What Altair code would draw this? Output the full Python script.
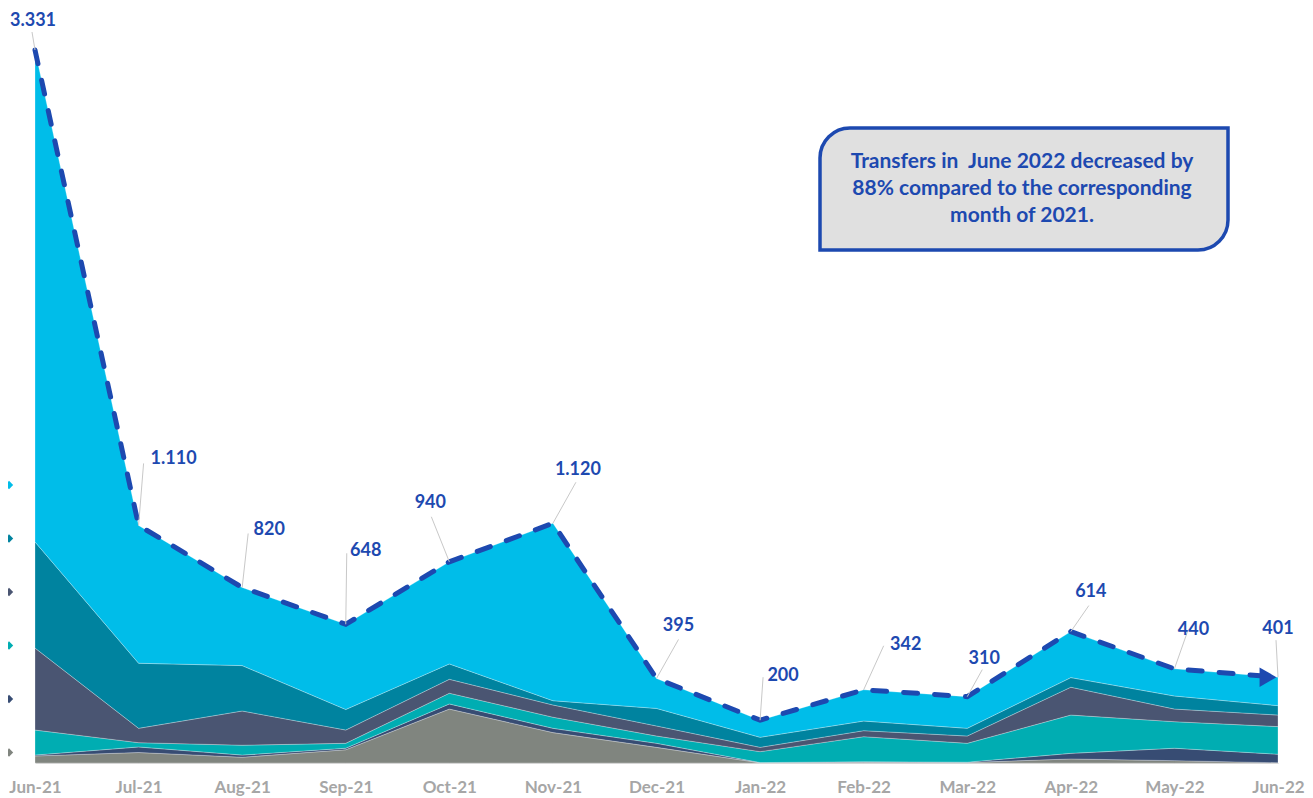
import json
import altair as alt
import pandas as pd

# ---------------- data ----------------
months = ["Jun-21", "Jul-21", "Aug-21", "Sep-21", "Oct-21", "Nov-21", "Dec-21",
          "Jan-22", "Feb-22", "Mar-22", "Apr-22", "May-22", "Jun-22"]

series_names = ["Series 1", "Series 2", "Series 3", "Series 4", "Series 5", "Series 6"]  # bottom -> top
s1 = [33, 49, 27, 62, 252, 142, 73, 1, 3, 2, 19, 11, 1]          # gray
s2 = [4, 26, 10, 7, 24, 20, 19, 1, 3, 2, 26, 58, 40]             # navy
s3 = [117, 20, 46, 23, 50, 52, 34, 51, 117, 88, 179, 124, 129]   # teal
s4 = [383, 67, 160, 62, 65, 57, 47, 20, 28, 34, 130, 59, 54]     # slate
s5 = [496, 304, 212, 96, 72, 20, 82, 47, 45, 36, 45, 61, 44]     # dark teal
s6 = [2298, 644, 365, 398, 477, 829, 140, 80, 146, 148, 215, 127, 133]  # light blue
totals = [3331, 1110, 820, 648, 940, 1120, 395, 200, 342, 310, 614, 440, 401]

note_text = "Transfers in\u00a0 June 2022 decreased by\n88% compared to the corresponding\nmonth of 2021."

# ---------------- styling ----------------
colors = ["#80857f", "#374c73", "#00adb2", "#4a5572", "#00839f", "#00bde9"]
BLUE = "#1d49b0"
W, H = 1243, 713
YMAX = 3331
px_x = W / 12.0
u_y = YMAX / H

# label placement offsets in px (relative to each total point)
lab_dx = [-2, 35, 27, 20, -19, 25, 22, 23, 42, 17, 20, 19, 0]
lab_dy = [-29, -66, -57, -73, -59, -53, -52, -44, -45, -38, -40, -39, -48]
lead_dx = [-3, 5, 6, 1, -18, 23, 22, 3, 20, 15, 18, 13, -2]
lead_dy = [-18, -62, -54, -71, -45, -41, -39, -43, -44, -27, -26, -37, -37]

# ---------------- tables ----------------
rows = []
for k, (name, vals) in enumerate(zip(series_names, [s1, s2, s3, s4, s5, s6])):
    for i, v in enumerate(vals):
        rows.append({"idx": i, "series": name, "value": v, "ord": k})
df = pd.DataFrame(rows)

tot = pd.DataFrame({
    "idx": list(range(len(months))),
    "total": totals,
    "label": [f"{t:,}".replace(",", ".") for t in totals],
})
tot["lx"] = tot["idx"] + pd.Series(lab_dx) / px_x
tot["ly"] = tot["total"] - pd.Series(lab_dy) * u_y
tot["ex"] = tot["idx"] + pd.Series(lead_dx) / px_x
tot["ey"] = tot["total"] - pd.Series(lead_dy) * u_y

xscale = alt.Scale(domain=[0, 12], nice=False, zero=False)
yscale = alt.Scale(domain=[0, YMAX], nice=False)

label_expr = json.dumps(months) + "[datum.value]"

area = alt.Chart(df).mark_area(stroke="#ffffff", strokeWidth=0.6, strokeOpacity=0.45).encode(
    x=alt.X("idx:Q", scale=xscale,
            axis=alt.Axis(values=list(range(13)), labelExpr=label_expr, title=None,
                          ticks=False, grid=False, domain=True, domainColor="#d0d0d0",
                          labelFont="Lato", labelFontWeight="bold", labelFontSize=17,
                          labelColor="#a6a6a6", labelPadding=16,
                          labelFlush=False, labelOverlap=False, labelBound=False)),
    y=alt.Y("value:Q", stack="zero", scale=yscale, axis=None),
    color=alt.Color("series:N",
                    scale=alt.Scale(domain=series_names[::-1], range=colors[::-1]),
                    legend=alt.Legend(orient="none", legendX=-31, legendY=430,
                                      symbolType="diamond", labelExpr="''", title=None,
                                      symbolSize=70, rowPadding=43.5, padding=0,
                                      symbolStrokeWidth=0)),
    order=alt.Order("ord:Q", sort="ascending"),
)

line = alt.Chart(tot).mark_line(color=BLUE, strokeWidth=5, strokeDash=[14, 17],
                                strokeCap="round").encode(
    x=alt.X("idx:Q", scale=xscale), y=alt.Y("total:Q", scale=yscale))

arrow = alt.Chart(tot[tot["idx"] == 12]).mark_point(
    shape="triangle-right", filled=True, color=BLUE, size=380, opacity=1, xOffset=-10
).encode(x=alt.X("idx:Q", scale=xscale), y=alt.Y("total:Q", scale=yscale))

leaders = alt.Chart(tot).mark_rule(color="#c8c8c8", strokeWidth=1).encode(
    x=alt.X("idx:Q", scale=xscale), y=alt.Y("total:Q", scale=yscale),
    x2="ex:Q", y2="ey:Q")

labels = alt.Chart(tot).mark_text(font="Lato", fontWeight="bold", fontSize=18,
                                  color=BLUE, align="center", baseline="middle").encode(
    x=alt.X("lx:Q", scale=xscale), y=alt.Y("ly:Q", scale=yscale), text="label:N")

box = alt.Chart(tot[tot["idx"] == 0]).mark_rect(
    fill="#e0e0e0", stroke=BLUE, strokeWidth=3.5,
    cornerRadiusTopLeft=30, cornerRadiusBottomRight=30
).encode(x=alt.value(785), x2=alt.value(1193), y=alt.value(78), y2=alt.value(200))

note = alt.Chart(tot[tot["idx"] == 0]).mark_text(
    font="Lato", fontWeight="bold", fontSize=21, color=BLUE, align="center",
    baseline="middle", lineBreak="\n", lineHeight=27
).encode(x=alt.value(987), y=alt.value(112), text=alt.value(note_text))

chart = alt.layer(area, line, arrow, leaders, labels, box, note).properties(
    width=W, height=H,
    padding={"left": 27, "top": 42, "right": 27, "bottom": 33},
    autosize=alt.AutoSizeParams(type="none"),
    background="white",
).configure_view(stroke=None)

chart.save("out.html", embed_options={"renderer": "svg", "actions": False})
